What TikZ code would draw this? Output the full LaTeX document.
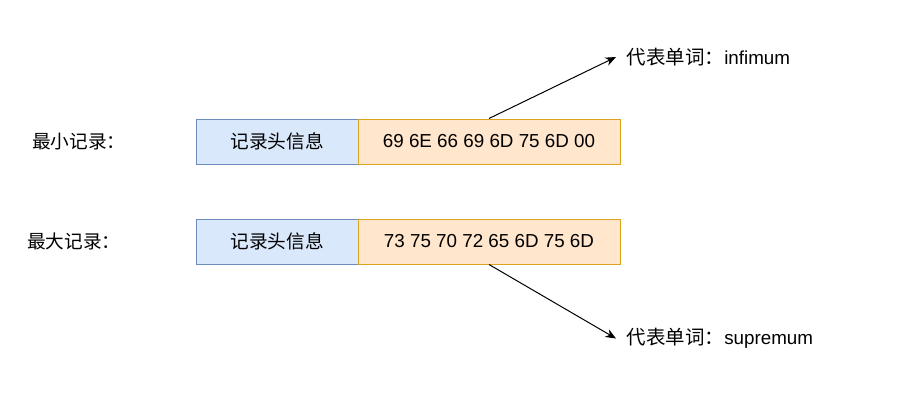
\documentclass[tikz,border=0pt]{standalone}
\usepackage{fontspec}
\setmainfont{Liberation Sans}
\newfontfamily\cjk{Noto Sans CJK SC}
\usetikzlibrary{arrows.meta}
\definecolor{bluefill}{HTML}{DAE8FC}
\definecolor{bluedraw}{HTML}{6C8EBF}
\definecolor{orfill}{HTML}{FFE6CC}
\definecolor{ordraw}{HTML}{D9A520}
\tikzset{
  hdrbox/.style={draw=bluedraw, fill=bluefill, line width=0.75pt, minimum width=121.5pt, minimum height=33.75pt, inner sep=0pt, font=\fontsize{14}{16}\selectfont\cjk},
  databox/.style={draw=ordraw, fill=orfill, line width=0.75pt, minimum width=196.5pt, minimum height=33.75pt, inner sep=0pt, font=\fontsize{14.1}{16}\selectfont},
  lbl/.style={inner sep=0pt, anchor=west, font=\fontsize{14}{16}\selectfont\cjk},
  wordlbl/.style={inner ysep=0pt, inner xsep=8pt, anchor=west, font=\fontsize{14.1}{16}\selectfont},
  conn/.style={line width=0.75pt, -{Stealth[length=8pt,width=6.5pt]}}
}
\begin{document}
\begin{tikzpicture}[x=0.75pt,y=-0.75pt]
\useasboundingbox (0,0) rectangle (900,404);
\node[hdrbox] (h1) at (277,141.5) {记录头信息};
\node[databox] (d1) at (489,141.5) {69 6E 66 69 6D 75 6D 00};
\node[hdrbox] (h2) at (277,241.5) {记录头信息};
\node[databox] (d2) at (489,241.5) {73 75 70 72 65 6D 75 6D};
\node[lbl] (l1) at (32,141.5) {最小记录：};
\node[lbl] (l2) at (27,241.5) {最大记录：};
\node[wordlbl] (w1) at (616,57) {{\cjk\fontsize{14.6}{16}\selectfont 代表单词：}infimum};
\node[wordlbl] (w2) at (616,338.5) {{\cjk\fontsize{14.6}{16}\selectfont 代表单词：}supremum};
\draw[conn] (d1.north) -- (w1.west);
\draw[conn] (d2.south) -- (w2.west);
\end{tikzpicture}
\end{document}
